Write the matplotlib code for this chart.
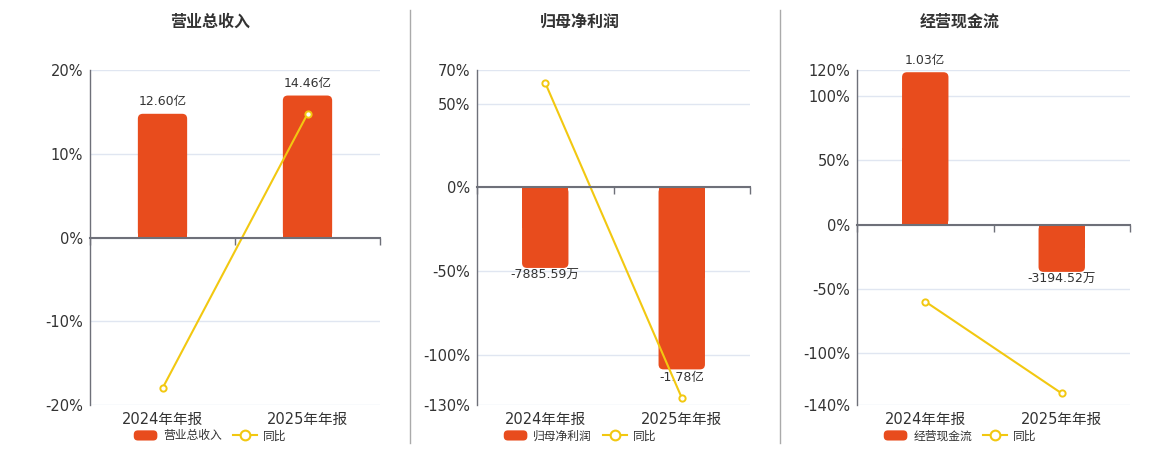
import numpy as np
import matplotlib
matplotlib.use("Agg")
import matplotlib.pyplot as plt
from matplotlib.patches import FancyBboxPatch, Rectangle, Patch
from matplotlib.legend_handler import HandlerPatch
from matplotlib.lines import Line2D

plt.rcParams['font.family'] = ['DejaVu Sans', 'Noto Sans CJK SC']

# ---- data ----
categories = ['2024年年报', '2025年年报']
titles = ['营业总收入', '归母净利润', '经营现金流']
revenue = [12.60, 14.46]            # 亿
net_profit = [-0.788559, -1.78]     # 亿
cash_flow = [1.03, -0.319452]       # 亿
revenue_yoy = [-18.0, 14.76]        # %
profit_yoy = [62.3, -125.7]         # %
cash_yoy = [-59.7, -131.0]          # %

values = [revenue, net_profit, cash_flow]
yoys = [revenue_yoy, profit_yoy, cash_yoy]

# ---- layout / style ----
W, H = 1160, 450
BAR_C = '#E84C1D'
LINE_C = '#F2C811'
AXIS_C = '#6e7079'
GRID_C = '#e0e6f1'
TEXT_C = '#333333'

ax_px = [(90, 290), (477, 273), (857, 273)]   # left, width in px
ax_top, ax_bot = 70, 405
pct_ylim = [(-20, 20), (-130, 70), (-140, 120)]
pct_ticks = [[-20, -10, 0, 10, 20],
             [-130, -100, -50, 0, 50, 70],
             [-140, -100, -50, 0, 50, 100, 120]]
bar_ylim = [(-17.06, 17.06), (-2.128, 1.146), (-1.219, 1.045)]
title_x = [210, 580, 960]
seps = [410, 780]


def fmt(v):
    if abs(v) >= 1:
        return f'{v:.2f}亿'
    return f'{v * 10000:.2f}万'


def rounded_handle(legend, orig_handle, xdescent, ydescent, width, height, fontsize):
    return FancyBboxPatch((-xdescent, -ydescent), width, height,
                          boxstyle='round,pad=0,rounding_size=3')


fig = plt.figure(figsize=(W / 100, H / 100), dpi=100)
x = np.arange(len(categories))

for i in range(3):
    left, width = ax_px[i]
    rect = [left / W, 1 - ax_bot / H, width / W, (ax_bot - ax_top) / H]

    # percent axis: grid, y labels, category labels
    ax = fig.add_axes(rect)
    ax.set_xlim(-0.5, 1.5)
    ax.set_ylim(*pct_ylim[i])
    ax.set_yticks(pct_ticks[i])
    ax.set_yticklabels([f'{t}%' for t in pct_ticks[i]])
    ax.set_xticks(x)
    ax.set_xticklabels(categories)
    ax.tick_params(axis='both', length=0, labelsize=10.5, colors=TEXT_C)
    ax.tick_params(axis='y', pad=5)
    ax.tick_params(axis='x', pad=5)
    ax.yaxis.grid(True, color=GRID_C, lw=1)
    ax.set_axisbelow(True)
    for s in ['top', 'right', 'bottom']:
        ax.spines[s].set_visible(False)
    ax.spines['left'].set_color(AXIS_C)
    ax.spines['left'].set_linewidth(1)

    # hidden bar axis
    axb = fig.add_axes(rect)
    axb.patch.set_visible(False)
    axb.set_xlim(-0.5, 1.5)
    axb.set_ylim(*bar_ylim[i])
    axb.axis('off')
    bars = axb.bar(x, values[i], width=0.34, color=BAR_C)
    px_x = width / 2.0
    px_y = (ax_bot - ax_top) / (bar_ylim[i][1] - bar_ylim[i][0])
    r = 5 / px_x
    for p in bars.patches:
        p.set_visible(False)
        x0, w = p.get_x(), p.get_width()
        y0, h = p.get_y(), p.get_height()
        yb, hh = min(y0, y0 + h), abs(h)
        axb.add_patch(FancyBboxPatch((x0, yb), w, hh,
                                     boxstyle=f'round,pad=0,rounding_size={r}',
                                     mutation_aspect=px_x / px_y,
                                     fc=BAR_C, ec='none'))
        # square off the base end at zero
        axb.add_patch(Rectangle((x0, y0), w, h / 2, fc=BAR_C, ec='none'))
    for xi, v in zip(x, values[i]):
        axb.annotate(fmt(v), xy=(xi, v),
                     xytext=(0, 4 if v > 0 else -1), textcoords='offset points',
                     ha='center', va='bottom' if v > 0 else 'top',
                     fontsize=9, color=TEXT_C)

    # line axis on top, with the zero axis line
    axl = fig.add_axes(rect)
    axl.patch.set_visible(False)
    axl.set_xlim(-0.5, 1.5)
    axl.set_ylim(*pct_ylim[i])
    axl.set_yticks([])
    axl.set_xticks([-0.5, 0.5, 1.5])
    axl.set_xticklabels([])
    axl.tick_params(axis='x', direction='out', length=5, width=1, color=AXIS_C)
    for s in ['top', 'right', 'left']:
        axl.spines[s].set_visible(False)
    axl.spines['bottom'].set_position(('data', 0))
    axl.spines['bottom'].set_color(AXIS_C)
    axl.spines['bottom'].set_linewidth(1.5)
    axl.plot(x, yoys[i], color=LINE_C, lw=1.5, marker='o', ms=4.5,
             mfc='white', mec=LINE_C, mew=1.4, clip_on=False)

    fig.text(title_x[i] / W, 1 - 22 / H, titles[i], ha='center', va='center',
             fontsize=11.5, fontweight='bold', color=TEXT_C,
             family=['Noto Sans CJK SC', 'DejaVu Sans'])

    bar_handle = Patch(facecolor=BAR_C, edgecolor='none')
    line_handle = Line2D([], [], color=LINE_C, lw=1.5, marker='o', ms=7,
                         mfc='white', mec=LINE_C, mew=1.5)
    fig.legend(handles=[bar_handle, line_handle], labels=[titles[i], '同比'],
               loc='center', bbox_to_anchor=(title_x[i] / W, 1 - 436 / H),
               ncol=2, frameon=False, handlelength=2.0,
               handleheight=0.95, handletextpad=0.5, columnspacing=0.95,
               borderpad=0, labelcolor=TEXT_C,
               handler_map={Patch: HandlerPatch(patch_func=rounded_handle)},
               prop={'family': ['Noto Sans CJK SC', 'DejaVu Sans'], 'size': 8.5})

for sx in seps:
    fig.add_artist(Line2D([sx / W, sx / W], [1 - 10 / H, 1 - 443 / H],
                          color='#aaaaaa', lw=1))

fig.savefig('out.png', dpi=100)
